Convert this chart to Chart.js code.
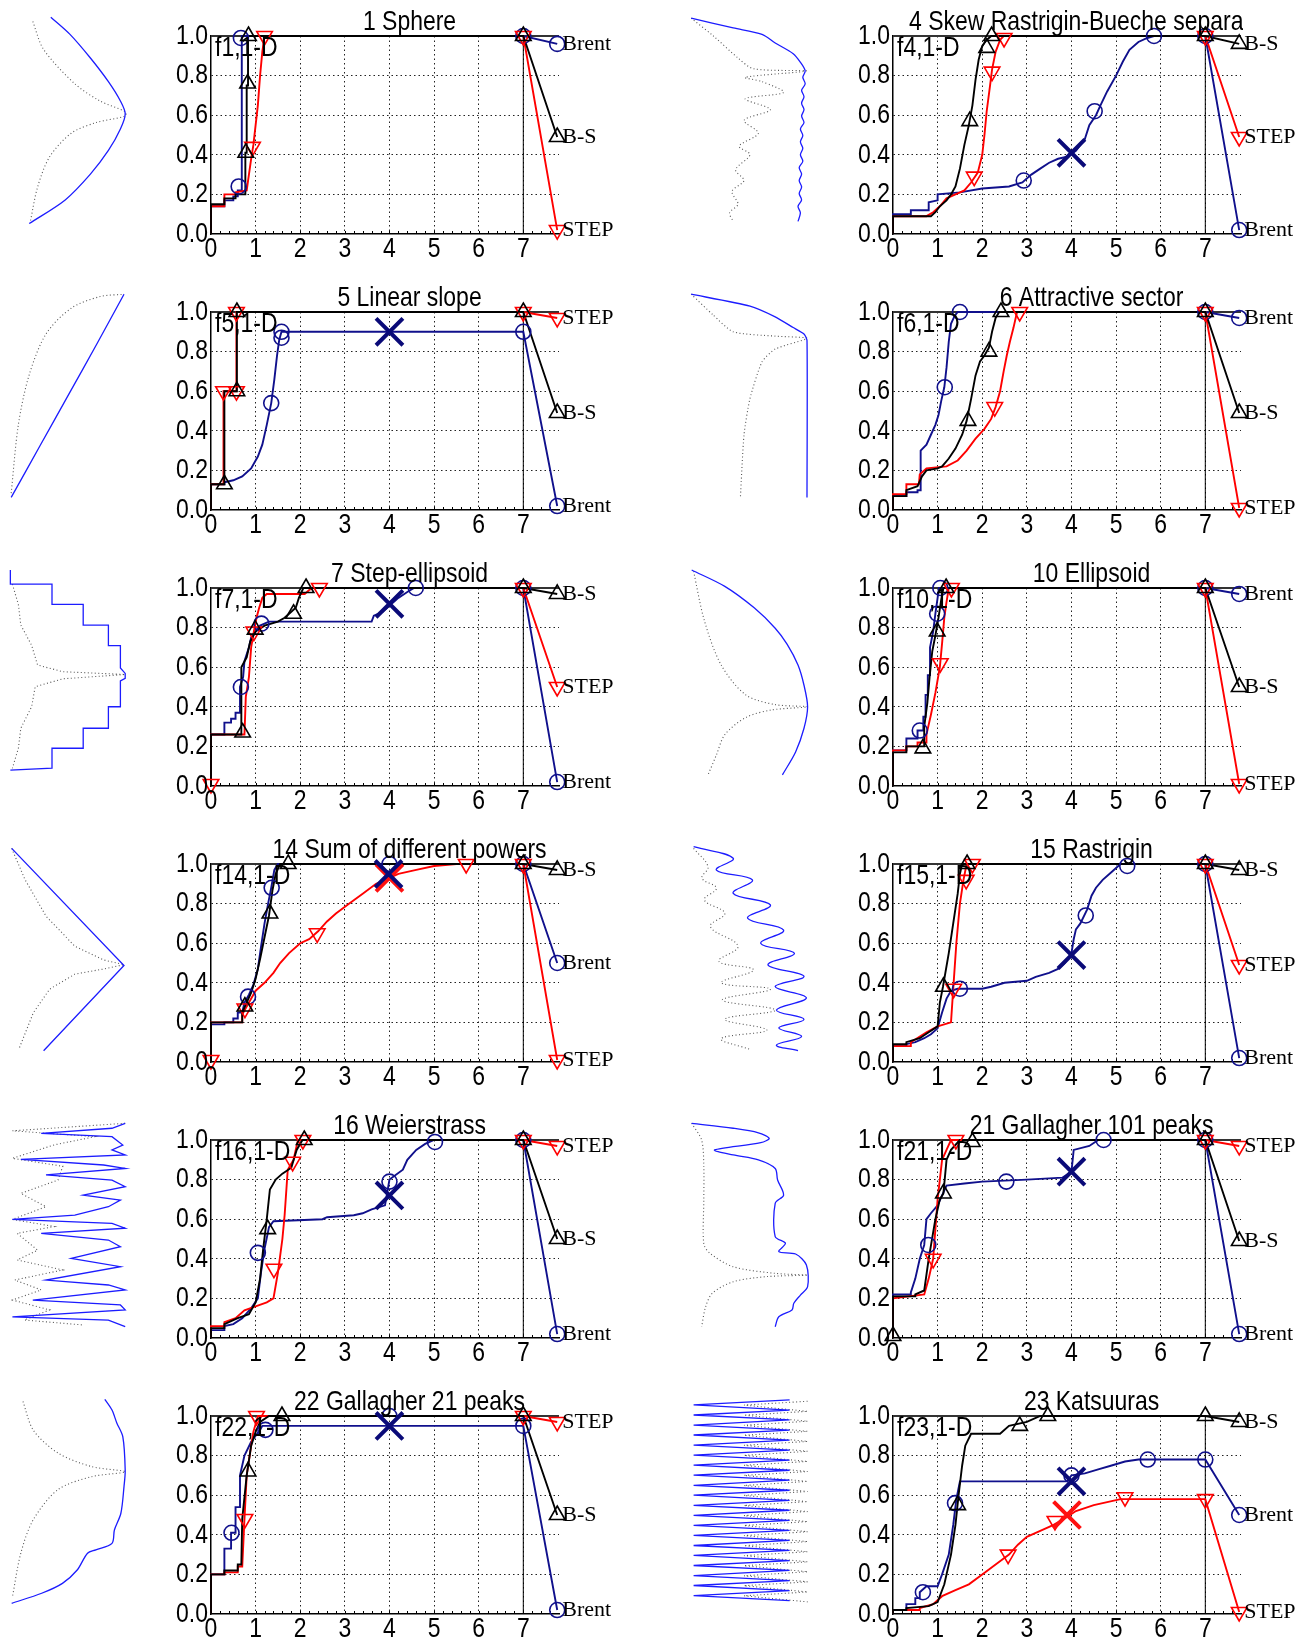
<!DOCTYPE html>
<html>
<head>
<meta charset="utf-8">
<script src="https://cdn.jsdelivr.net/npm/chart.js"></script>
<style>
  body { margin: 0; width: 1300px; height: 1638px; overflow: hidden; background: #fff; position: relative; }
  canvas { position: absolute; }
</style>
</head>
<body>
<script>
// ---- panel labels / axes ----
const panelIds = [1, 4, 5, 6, 7, 10, 14, 15, 16, 21, 22, 23];
const panelTitles = ["1 Sphere", "4 Skew Rastrigin-Bueche separable", "5 Linear slope", "6 Attractive sector",
  "7 Step-ellipsoid", "10 Ellipsoid", "14 Sum of different powers", "15 Rastrigin", "16 Weierstrass",
  "21 Gallagher 101 peaks", "22 Gallagher 21 peaks", "23 Katsuuras"];
const seriesNames = ["Brent", "B-S", "STEP"];
const xTicks = [0, 1, 2, 3, 4, 5, 6, 7];
const yTicks = [0, 0.2, 0.4, 0.6, 0.8, 1.0];
const refX = 7;
const endX = 7.76;

// ---- ECDF curves [x, y]; end values are Brent, B-S, STEP ----
const f1Brent = [[0,0],[0,0.14],[0.3,0.14],[0.3,0.17],[0.5,0.17],[0.5,0.19],[0.6,0.19],[0.6,0.22],[0.69,0.22],[0.69,1.0]];
const f1BS = [[0,0],[0,0.15],[0.3,0.15],[0.3,0.18],[0.55,0.18],[0.55,0.2],[0.77,0.2],[0.77,0.41],[0.8,0.41],[0.8,0.75],[0.83,0.75],[0.83,1.0]];
const f1Step = [[0,0],[0,0.14],[0.3,0.14],[0.3,0.2],[0.55,0.2],[0.55,0.21],[0.8,0.22],[0.85,0.3],[0.9,0.38],[0.95,0.45],[1.0,0.55],[1.05,0.65],[1.1,0.8],[1.15,0.92],[1.2,1.0]];
const f1BrentMk = [[0.62,0.24],[0.67,0.99]];
const f1BSMk = [[0.78,0.41],[0.82,0.76],[0.84,1.0]];
const f1StepMk = [[0.93,0.44],[1.2,1.0]];
const f1End = [0.96, 0.49, 0.02];
const f1Cross = [];

const f4Brent = [[0,0],[0,0.1],[0.4,0.1],[0.4,0.12],[0.8,0.12],[0.8,0.16],[1.0,0.17],[1.0,0.2],[1.5,0.21],[2.0,0.23],[2.6,0.24],[2.9,0.26],[3.1,0.3],[3.3,0.33],[3.5,0.36],[3.7,0.38],[3.9,0.39],[4.1,0.42],[4.3,0.48],[4.4,0.55],[4.55,0.6],[4.65,0.65],[4.8,0.72],[5.0,0.8],[5.15,0.87],[5.3,0.93],[5.5,0.97],[5.7,0.99],[5.85,1.0]];
const f4BS = [[0,0],[0,0.09],[0.85,0.09],[0.95,0.11],[1.05,0.14],[1.2,0.17],[1.3,0.2],[1.4,0.24],[1.5,0.33],[1.6,0.45],[1.7,0.55],[1.78,0.65],[1.85,0.78],[1.92,0.88],[2.0,0.95],[2.1,0.98],[2.2,1.0]];
const f4Step = [[0,0],[0,0.09],[0.75,0.09],[0.9,0.11],[1.05,0.14],[1.2,0.18],[1.4,0.2],[1.6,0.22],[1.75,0.26],[1.9,0.31],[2.0,0.4],[2.05,0.5],[2.1,0.62],[2.17,0.74],[2.22,0.83],[2.3,0.92],[2.4,0.98],[2.48,1.0]];
const f4BrentMk = [[2.93,0.27],[4.52,0.62],[5.85,1.0]];
const f4BSMk = [[1.72,0.57],[2.1,0.94],[2.21,1.0]];
const f4StepMk = [[1.82,0.29],[2.22,0.82],[2.49,0.99]];
const f4End = [0.02, 0.96, 0.49];
const f4Cross = [[4.0,0.41,0]];

const f5Brent = [[0,0],[0,0.13],[0.3,0.13],[0.3,0.14],[0.5,0.15],[0.7,0.17],[0.9,0.21],[1.05,0.27],[1.15,0.33],[1.25,0.43],[1.35,0.54],[1.42,0.66],[1.48,0.78],[1.53,0.86],[1.58,0.9]];
const f5BS = [[0,0],[0,0.13],[0.3,0.13],[0.3,0.6],[0.58,0.6],[0.58,1.0]];
const f5Step = [[0,0],[0,0.13],[0.28,0.13],[0.28,0.6],[0.57,0.6],[0.57,1.0]];
const f5BrentMk = [[1.35,0.54],[1.58,0.87],[1.58,0.9]];
const f5BSMk = [[0.3,0.13],[0.58,0.6],[0.58,1.0]];
const f5StepMk = [[0.28,0.6],[0.57,0.6],[0.57,1.0]];
const f5End = [0.02, 0.49, 0.97];
const f5Cross = [[4.0,0.9,0]];

const f6Brent = [[0,0],[0,0.07],[0.3,0.07],[0.3,0.09],[0.55,0.09],[0.55,0.1],[0.62,0.1],[0.62,0.3],[0.75,0.33],[0.85,0.38],[0.95,0.43],[1.02,0.48],[1.08,0.55],[1.15,0.62],[1.2,0.72],[1.25,0.85],[1.3,0.94],[1.38,0.98],[1.45,1.0]];
const f6BS = [[0,0],[0,0.07],[0.3,0.07],[0.3,0.1],[0.55,0.12],[0.65,0.17],[0.75,0.2],[1.0,0.21],[1.1,0.22],[1.25,0.26],[1.4,0.31],[1.55,0.38],[1.65,0.45],[1.75,0.56],[1.85,0.68],[1.95,0.75],[2.05,0.78],[2.15,0.82],[2.22,0.9],[2.3,0.97],[2.38,1.0]];
const f6Step = [[0,0],[0,0.08],[0.3,0.08],[0.3,0.13],[0.58,0.13],[0.6,0.18],[0.75,0.21],[1.2,0.22],[1.45,0.25],[1.65,0.3],[1.85,0.36],[2.05,0.41],[2.2,0.46],[2.3,0.52],[2.4,0.6],[2.48,0.7],[2.55,0.78],[2.62,0.85],[2.7,0.92],[2.78,1.0]];
const f6BrentMk = [[1.16,0.62],[1.5,1.0]];
const f6BSMk = [[1.68,0.45],[2.15,0.8],[2.42,1.0]];
const f6StepMk = [[2.28,0.52],[2.84,1.0]];
const f6End = [0.97, 0.49, 0.01];
const f6Cross = [];

const f7Brent = [[0,0],[0,0.26],[0.3,0.26],[0.3,0.32],[0.45,0.32],[0.45,0.34],[0.55,0.34],[0.55,0.37],[0.65,0.37],[0.65,0.5],[0.72,0.55],[0.75,0.63],[0.85,0.7],[0.9,0.75],[1.0,0.78],[1.1,0.81],[1.3,0.83],[3.6,0.83],[3.65,0.86],[3.85,0.88],[4.0,0.91],[4.2,0.95],[4.4,0.98],[4.55,1.0]];
const f7BS = [[0,0],[0,0.26],[0.68,0.26],[0.68,0.6],[0.8,0.65],[0.88,0.73],[1.0,0.78],[1.2,0.81],[1.5,0.83],[1.65,0.85],[1.75,0.87],[1.9,0.9],[1.97,0.95],[2.07,1.0]];
const f7Step = [[0,0],[0,0.26],[0.75,0.26],[0.78,0.45],[0.85,0.55],[0.9,0.7],[0.96,0.78],[1.02,0.85],[1.08,0.9],[1.15,0.95],[1.25,0.97],[2.1,0.97],[2.2,0.99],[2.3,1.0]];
const f7BrentMk = [[0.67,0.5],[1.13,0.82],[4.59,1.0]];
const f7BSMk = [[0.71,0.27],[0.99,0.79],[1.85,0.87],[2.13,1.0]];
const f7StepMk = [[0,0.01],[0.96,0.78],[2.43,1.0]];
const f7End = [0.02, 0.97, 0.5];
const f7Cross = [[4.0,0.92,0]];

const f10Brent = [[0,0],[0,0.18],[0.3,0.18],[0.3,0.24],[0.55,0.24],[0.55,0.28],[0.68,0.28],[0.68,0.35],[0.73,0.35],[0.73,0.46],[0.78,0.46],[0.78,0.56],[0.83,0.56],[0.83,0.7],[0.9,0.78],[0.95,0.87],[1.0,0.95],[1.03,1.0]];
const f10BS = [[0,0],[0,0.17],[0.3,0.17],[0.3,0.2],[0.7,0.2],[0.7,0.3],[0.77,0.42],[0.82,0.55],[0.88,0.68],[0.95,0.76],[1.02,0.85],[1.08,0.94],[1.13,1.0]];
const f10Step = [[0,0],[0,0.18],[0.3,0.18],[0.3,0.2],[0.55,0.2],[0.55,0.22],[0.75,0.22],[0.75,0.26],[0.85,0.36],[0.95,0.47],[1.05,0.6],[1.1,0.72],[1.15,0.85],[1.2,0.93],[1.25,1.0]];
const f10BrentMk = [[0.6,0.28],[0.99,0.87],[1.06,1.0]];
const f10BSMk = [[0.67,0.19],[0.99,0.78],[1.19,1.0]];
const f10StepMk = [[1.06,0.62],[1.31,1.0]];
const f10End = [0.97, 0.5, 0.01];
const f10Cross = [];

const f14Brent = [[0,0],[0,0.19],[0.3,0.19],[0.3,0.2],[0.5,0.2],[0.5,0.22],[0.6,0.22],[0.6,0.25],[0.7,0.25],[0.75,0.3],[0.85,0.34],[0.95,0.39],[1.05,0.47],[1.12,0.58],[1.2,0.7],[1.28,0.8],[1.35,0.88],[1.42,0.97],[1.5,1.0]];
const f14BS = [[0,0],[0,0.2],[0.7,0.2],[0.7,0.25],[0.8,0.3],[0.9,0.35],[1.0,0.42],[1.1,0.52],[1.2,0.63],[1.3,0.74],[1.38,0.87],[1.45,0.95],[1.55,1.0]];
const f14Step = [[0,0],[0,0.2],[0.7,0.2],[0.7,0.24],[0.85,0.3],[1.0,0.36],[1.2,0.4],[1.4,0.45],[1.55,0.5],[1.75,0.55],[2.0,0.6],[2.2,0.62],[2.4,0.66],[2.6,0.71],[2.8,0.75],[3.1,0.8],[3.4,0.85],[3.7,0.9],[4.0,0.93],[4.2,0.95],[4.6,0.97],[5.0,0.99],[5.5,1.0]];
const f14BrentMk = [[0.83,0.33],[1.36,0.88],[4.0,1.0]];
const f14BSMk = [[0.76,0.28],[1.32,0.75],[1.73,1.0]];
const f14StepMk = [[0,0.01],[0.76,0.27],[2.38,0.65],[5.72,1.0]];
const f14End = [0.5, 0.97, 0.01];
const f14Cross = [[3.98,0.95,0],[4.0,0.93,2]];

const f15Brent = [[0,0],[0,0.08],[0.3,0.08],[0.3,0.09],[0.5,0.1],[0.7,0.12],[0.85,0.14],[1.0,0.17],[1.1,0.25],[1.2,0.32],[1.3,0.36],[1.45,0.37],[2.0,0.37],[2.2,0.38],[2.5,0.4],[3.0,0.41],[3.2,0.43],[3.5,0.45],[3.7,0.47],[3.85,0.5],[4.0,0.55],[4.05,0.62],[4.1,0.67],[4.2,0.7],[4.35,0.77],[4.45,0.84],[4.55,0.88],[4.7,0.92],[4.9,0.96],[5.1,1.0]];
const f15BS = [[0,0],[0,0.09],[0.3,0.09],[0.3,0.1],[0.6,0.12],[0.8,0.15],[1.0,0.18],[1.05,0.3],[1.12,0.38],[1.25,0.55],[1.35,0.7],[1.45,0.85],[1.5,0.95],[1.55,1.0]];
const f15Step = [[0,0],[0,0.08],[0.4,0.08],[0.4,0.1],[0.75,0.15],[1.0,0.18],[1.3,0.2],[1.35,0.37],[1.42,0.6],[1.5,0.8],[1.58,0.92],[1.65,1.0]];
const f15BrentMk = [[1.5,0.37],[4.32,0.74],[5.25,0.99]];
const f15BSMk = [[1.13,0.38],[1.66,1.0]];
const f15StepMk = [[1.36,0.37],[1.64,0.92],[1.78,1.0]];
const f15End = [0.02, 0.97, 0.49];
const f15Cross = [[4.0,0.54,0]];

const f16Brent = [[0,0],[0,0.04],[0.3,0.04],[0.3,0.06],[0.5,0.07],[0.7,0.1],[0.9,0.15],[1.05,0.2],[1.12,0.33],[1.2,0.45],[1.3,0.56],[1.4,0.59],[2.5,0.6],[2.6,0.61],[3.2,0.62],[3.4,0.63],[3.6,0.65],[3.9,0.67],[4.0,0.8],[4.3,0.85],[4.4,0.9],[4.6,0.95],[4.8,0.98],[5.0,1.0]];
const f16BS = [[0,0],[0,0.05],[0.3,0.05],[0.3,0.07],[0.6,0.1],[0.85,0.12],[1.0,0.18],[1.1,0.3],[1.17,0.45],[1.25,0.6],[1.32,0.75],[1.45,0.8],[1.6,0.83],[1.8,0.86],[1.92,0.95],[2.05,1.0]];
const f16Step = [[0,0],[0,0.06],[0.3,0.06],[0.3,0.08],[0.55,0.1],[0.75,0.14],[1.0,0.16],[1.25,0.18],[1.4,0.2],[1.5,0.33],[1.6,0.5],[1.65,0.62],[1.72,0.85],[1.85,0.9],[1.95,1.0]];
const f16BrentMk = [[1.05,0.43],[4.0,0.79],[5.02,0.99]];
const f16BSMk = [[1.27,0.55],[2.09,1.0]];
const f16StepMk = [[1.41,0.35],[1.83,0.89],[2.06,1.0]];
const f16End = [0.02, 0.5, 0.97];
const f16Cross = [[4.0,0.72,0]];

const f21Brent = [[0,0],[0,0.22],[0.4,0.22],[0.4,0.23],[0.5,0.3],[0.6,0.4],[0.7,0.47],[0.75,0.6],[0.85,0.63],[1.0,0.67],[1.1,0.72],[1.2,0.77],[1.6,0.78],[2.0,0.79],[3.0,0.8],[3.8,0.81],[4.0,0.84],[4.05,0.95],[4.4,0.97],[4.6,1.0]];
const f21BS = [[0,0],[0,0.21],[0.5,0.21],[0.5,0.22],[0.7,0.24],[0.8,0.4],[0.95,0.6],[1.05,0.7],[1.13,0.73],[1.2,0.9],[1.3,0.95],[1.5,1.0]];
const f21Step = [[0,0],[0,0.2],[0.7,0.22],[0.8,0.3],[0.9,0.4],[0.95,0.55],[1.0,0.7],[1.1,0.9],[1.2,0.95],[1.3,1.0]];
const f21BrentMk = [[0.79,0.47],[2.54,0.79],[4.72,1.0]];
const f21BSMk = [[0,0.01],[1.13,0.73],[1.78,0.99]];
const f21StepMk = [[0.9,0.4],[1.41,1.0]];
const f21End = [0.02, 0.49, 0.97];
const f21Cross = [[4.0,0.84,0]];

const f22Brent = [[0,0],[0,0.2],[0.3,0.2],[0.3,0.33],[0.45,0.33],[0.45,0.41],[0.55,0.41],[0.55,0.54],[0.65,0.54],[0.65,0.7],[0.75,0.8],[0.9,0.87],[1.1,0.93],[1.15,0.95]];
const f22BS = [[0,0],[0,0.2],[0.3,0.2],[0.3,0.22],[0.6,0.22],[0.6,0.25],[0.68,0.25],[0.7,0.48],[0.8,0.7],[0.9,0.85],[1.0,0.92],[1.1,0.97],[1.3,1.0]];
const f22Step = [[0,0],[0,0.2],[0.3,0.2],[0.3,0.21],[0.6,0.21],[0.6,0.24],[0.7,0.24],[0.75,0.48],[0.8,0.7],[0.9,0.85],[0.95,0.92],[1.0,0.96],[1.05,1.0]];
const f22BrentMk = [[0.46,0.41],[1.22,0.93],[4.0,1.0]];
const f22BSMk = [[0.83,0.72],[1.59,1.0]];
const f22StepMk = [[0.76,0.48],[1.02,1.0]];
const f22End = [0.02, 0.5, 0.97];
const f22Cross = [[4.0,0.95,0]];

const f23Brent = [[0,0],[0,0.02],[0.3,0.02],[0.3,0.05],[0.5,0.05],[0.5,0.08],[0.6,0.08],[0.6,0.11],[0.75,0.14],[1.0,0.14],[1.1,0.2],[1.25,0.3],[1.35,0.45],[1.42,0.58],[1.5,0.67],[3.9,0.67],[4.0,0.7],[4.3,0.71],[4.6,0.73],[4.9,0.75],[5.2,0.77],[5.5,0.78]];
const f23BS = [[0,0],[0,0.02],[0.3,0.02],[0.3,0.03],[0.8,0.04],[1.0,0.06],[1.15,0.15],[1.3,0.3],[1.4,0.45],[1.47,0.6],[1.55,0.75],[1.62,0.85],[1.75,0.91],[2.4,0.91],[2.6,0.95],[3.0,0.97],[3.3,1.0]];
const f23Step = [[0,0],[0,0.02],[0.6,0.02],[0.6,0.03],[0.9,0.05],[1.1,0.09],[1.4,0.12],[1.7,0.15],[2.0,0.2],[2.3,0.25],[2.6,0.3],[2.8,0.35],[3.0,0.39],[3.3,0.42],[3.6,0.45],[3.9,0.49],[4.1,0.52],[4.5,0.55],[4.9,0.57],[5.1,0.58]];
const f23BrentMk = [[0.67,0.11],[1.39,0.56],[4.0,0.7],[5.71,0.78]];
const f23BSMk = [[1.45,0.55],[2.84,0.95],[3.47,1.0]];
const f23StepMk = [[2.58,0.3],[3.63,0.47],[5.2,0.59]];
const f23End = [0.5, 0.97, 0.01];
const f23Cross = [[4.0,0.67,0],[3.9,0.5,2]];

// ---- function thumbnails, x 0..100 across, y 0..100 top to bottom ----
const thumb1Blue = [[34,1],[50,9],[67,20],[82,31],[92,40],[96,46],[92,53],[82,63],[67,74],[46,86],[16,97]];
const thumb1Dots = [[19,3],[28,16],[54,32],[75,40],[96,45],[96,47],[72,50],[51,55],[33,66],[23,80],[17,96]];
const thumb4Blue = [[1,1.5],[36,6],[60,9],[71,13],[86,18],[92,22],[96,26],[94,29],[96,32],[93,35],[95,38],[93,41],[95,44],[93,47],[95,50],[92,53],[94,56],[92,59],[94,62],[92,65],[94,68],[91,71],[93,74],[91,77],[93,80],[91,83],[93,86],[90,89],[92,92],[90,96]];
const thumb4Dots = [[1,1.5],[20,10],[40,20],[53,25],[97,26],[46,29],[60,31],[78,36],[46,39],[67,44],[45,49],[57,55],[41,61],[50,65],[38,72],[45,77],[35,82],[40,88],[33,92],[36,96]];
const thumb5Blue = [[1,96],[25,72],[48,49],[72,25],[95,1.5]];
const thumb5Dots = [[1,94],[7,62],[16,39],[30,20],[51,8],[75,2.6],[95,1.5]];
const thumb6Blue = [[1,1.5],[50,7],[71,12],[86,17],[95,20],[97.5,23],[97.5,96]];
const thumb6Dots = [[1,1.5],[19,11],[36,19],[71,21],[97.5,22],[71,27],[60,33],[50,50],[45,67],[42,96]];
const thumb7Blue = [[0.3,1.4],[0.3,8],[35,8],[35,17.4],[61,17.4],[61,27],[82,27],[82,36.6],[92,36.6],[92,47],[96,49.5],[96,51.8],[92,53],[92,65],[82,65],[82,75],[61,75],[61,84.3],[35,84.3],[35,93.6],[0.3,94.5]];
const thumb7Dots = [[2,8],[7,17.5],[9,27],[18,36.4],[23,45.6],[44,48.7],[96,50],[44,52],[21,55.7],[18,65],[9,75],[7,84.3],[2,93.6]];
const thumb10Blue = [[1.4,1.4],[29,9],[53.5,19],[71,28.5],[81,36],[90,45.6],[95,55],[98,65],[95,75],[88,86],[77,96.7]];
const thumb10Dots = [[3,2],[12,25],[26,45.6],[46.5,59.5],[71,64],[98,65],[68,66.5],[46.5,70],[29,78],[22,87.4],[15,96.7]];
const thumb14Blue = [[1.4,2.5],[95,57],[28,96.6]];
const thumb14Dots = [[1.4,2.5],[12.5,17],[30,34],[54,48],[78,54.4],[95,56.6],[78,58.6],[54,61],[33,68],[19.4,79],[7.3,96]];
const thumb15Blue = [[3,1.7],[36,7.1],[22,12.6],[52,17.2],[36,23.4],[67,28.8],[48,35],[78,40.5],[59,46.7],[87,51.3],[65,56.7],[95,62],[71,66.8],[97,72],[72,77.7],[95,82],[74,86],[93,90],[72,94],[90,96.6]];
const thumb15Dots = [[3,2.5],[15,11],[10,16.4],[22,21],[12,26.5],[29,32.7],[17,38.9],[40,48],[24,55],[53,59],[26,65],[67,68],[27,73],[71,77.7],[29,82],[64,87],[26,91],[50,96]];
const thumb16Blue = [[96,2],[85,4.3],[26,6.7],[85,8.2],[94,12.1],[85,14.4],[96,16.7],[9,18.8],[78,21.4],[96,23],[30,26],[85,28.4],[96,31.5],[61,35.4],[92,37.7],[82,40.8],[54,44.7],[2,46.7],[85,48.5],[96,50.8],[26,53.2],[82,56.3],[92,59.4],[51,64.8],[92,68.7],[30,74.9],[82,77.2],[96,79.5],[19,84.2],[92,86.5],[96,88.8],[2,92],[82,93.5],[96,96.6]];
const thumb16Dots = [[96,2],[2,5.5],[71,8.2],[37,12],[2,18.3],[44,22],[40,28.4],[9,34.6],[30,40.8],[2,46.7],[37,50],[6,53.2],[23,61],[6,65.6],[44,70.2],[4,74.9],[26,79.5],[2,84.2],[33,88.8],[12,93.5],[61,95.8]];
const thumb21Blue = [[1.4,2],[36,4.3],[57,6.4],[66,9],[59,11],[20.5,14.4],[36,16.7],[57,19],[71,23],[73,28.4],[78,35.4],[71,39.2],[71,54.7],[79.5,57.8],[74,61.7],[88,62.8],[97,67.9],[98,78],[92,81.9],[86.5,85.7],[85,88.8],[74,92],[71,96.6]];
const thumb21Dots = [[1.4,2],[9.7,9.8],[11.5,22],[11.5,38],[11.5,58],[16.7,62.5],[36,68.7],[71,71.8],[98,72.6],[64,73.3],[36,75.7],[18.7,81],[13,87.4],[9.7,96.6]];
const thumb22Blue = [[79,2],[85,7],[89,13],[94,19.4],[96,35],[95,42.6],[92.4,55],[87,62.8],[85,69],[71.5,72],[64.6,73.6],[56,81.4],[43.7,87.6],[26.4,92.2],[1.4,96.9]];
const thumb22Dots = [[10.8,3],[19.4,16.3],[40,27],[68,33.3],[96,35.7],[68,38],[40,44],[19.4,58],[9,73.6],[2,94]];
const thumb23Blue = [[83,2.3],[3,4.6],[83,7.0],[3,9.3],[83,11.6],[3,14.0],[83,16.3],[3,18.6],[83,21.0],[3,23.3],[83,25.6],[3,28.0],[83,30.3],[3,32.6],[83,35.0],[3,37.3],[83,39.6],[3,42.0],[83,44.3],[3,46.6],[83,49.0],[3,51.3],[83,53.6],[3,56.0],[83,58.3],[3,60.6],[83,63.0],[3,65.3],[83,67.6],[3,70.0],[83,72.3],[3,74.6],[83,77.0],[3,79.3],[83,81.6],[3,84.0],[83,86.3],[3,88.6],[83,91.0],[3,93.3],[83,95.6]];
const thumb23Dots = [[98,2.9],[45,4.7],[98,7.6],[45,9.4],[98,12.2],[45,14.1],[98,16.9],[45,18.7],[98,21.6],[45,23.4],[98,26.2],[45,28.1],[98,30.9],[45,32.7],[98,35.6],[45,37.4],[98,40.2],[45,42.1],[98,44.9],[45,46.7],[98,49.6],[45,51.4],[98,54.2],[45,56.1],[98,58.9],[45,60.7],[98,63.6],[45,65.4],[98,68.2],[45,70.1],[98,72.9],[45,74.7],[98,77.6],[45,79.4],[98,82.2],[45,84.1],[98,86.9],[45,88.7],[98,91.6],[45,93.4],[98,96.2]];

// ---- assemble ----
const panels = [
  { curves: [f1Brent, f1BS, f1Step], marks: [f1BrentMk, f1BSMk, f1StepMk], end: f1End, cross: f1Cross, blue: thumb1Blue, dots: thumb1Dots, tension: 0.3 },
  { curves: [f4Brent, f4BS, f4Step], marks: [f4BrentMk, f4BSMk, f4StepMk], end: f4End, cross: f4Cross, blue: thumb4Blue, dots: thumb4Dots, tension: 0.3 },
  { curves: [f5Brent, f5BS, f5Step], marks: [f5BrentMk, f5BSMk, f5StepMk], end: f5End, cross: f5Cross, blue: thumb5Blue, dots: thumb5Dots, tension: 0.3 },
  { curves: [f6Brent, f6BS, f6Step], marks: [f6BrentMk, f6BSMk, f6StepMk], end: f6End, cross: f6Cross, blue: thumb6Blue, dots: thumb6Dots, tension: 0.2 },
  { curves: [f7Brent, f7BS, f7Step], marks: [f7BrentMk, f7BSMk, f7StepMk], end: f7End, cross: f7Cross, blue: thumb7Blue, dots: thumb7Dots, tension: 0 },
  { curves: [f10Brent, f10BS, f10Step], marks: [f10BrentMk, f10BSMk, f10StepMk], end: f10End, cross: f10Cross, blue: thumb10Blue, dots: thumb10Dots, tension: 0.3 },
  { curves: [f14Brent, f14BS, f14Step], marks: [f14BrentMk, f14BSMk, f14StepMk], end: f14End, cross: f14Cross, blue: thumb14Blue, dots: thumb14Dots, tension: 0 },
  { curves: [f15Brent, f15BS, f15Step], marks: [f15BrentMk, f15BSMk, f15StepMk], end: f15End, cross: f15Cross, blue: thumb15Blue, dots: thumb15Dots, tension: 0.4 },
  { curves: [f16Brent, f16BS, f16Step], marks: [f16BrentMk, f16BSMk, f16StepMk], end: f16End, cross: f16Cross, blue: thumb16Blue, dots: thumb16Dots, tension: 0 },
  { curves: [f21Brent, f21BS, f21Step], marks: [f21BrentMk, f21BSMk, f21StepMk], end: f21End, cross: f21Cross, blue: thumb21Blue, dots: thumb21Dots, tension: 0.3 },
  { curves: [f22Brent, f22BS, f22Step], marks: [f22BrentMk, f22BSMk, f22StepMk], end: f22End, cross: f22Cross, blue: thumb22Blue, dots: thumb22Dots, tension: 0.3 },
  { curves: [f23Brent, f23BS, f23Step], marks: [f23BrentMk, f23BSMk, f23StepMk], end: f23End, cross: f23Cross, blue: thumb23Blue, dots: thumb23Dots, tension: 0 },
];

const lineColors = ["#10108c", "#000000", "#ff0000"];
const crossColors = ["#0a0a78", "#000000", "#ff1010"];
const shapes = ["circle", "triangle", "triangle"];
const rotations = [0, 0, 180];
const sizes = [7.5, 9, 9];
const lineOrder = [1, 2, 0]; // B-S drawn on top, then STEP, then Brent
const rowPitch = 276;
const sansFont = '"Liberation Sans", Arial, sans-serif';
const serifFont = '"Liberation Serif", "Times New Roman", serif';
const textSize = 28;
const squeeze = 0.82; // the original lettering is tall and narrow

Chart.defaults.font.family = sansFont;
Chart.defaults.color = "#000";

function makeCanvas(left, top, w, h) {
  const c = document.createElement("canvas");
  c.width = w;
  c.height = h;
  c.style.left = left + "px";
  c.style.top = top + "px";
  document.body.appendChild(c);
  return c;
}

const toPts = (arr) => arr.map(([x, y]) => ({ x, y }));

function narrowText(ctx, text, x, y, align) {
  ctx.save();
  ctx.translate(x, y);
  ctx.scale(squeeze, 1);
  ctx.textAlign = align;
  ctx.fillText(text, 0, 0);
  ctx.restore();
}

// titles, tags, tick labels, series labels and top spine
const panelText = {
  id: "panelText",
  beforeDatasetsDraw(chart) {
    const { ctx, chartArea: a, scales: { x, y } } = chart;
    const top = y.getPixelForValue(1);
    ctx.save();
    ctx.strokeStyle = "#333";
    ctx.lineWidth = 2;
    ctx.beginPath();
    ctx.moveTo(a.left, top);
    ctx.lineTo(a.right, top);
    ctx.stroke();
    // small minor ticks along the bottom axis
    ctx.lineWidth = 1;
    ctx.strokeStyle = "#000";
    for (let v = 0.2; v < 7.8; v += 0.2) {
      const px = Math.round(x.getPixelForValue(v)) + 0.5;
      ctx.beginPath();
      ctx.moveTo(px, a.bottom);
      ctx.lineTo(px, a.bottom - 3);
      ctx.stroke();
    }
    ctx.restore();
  },
  afterDatasetsDraw(chart, args, opts) {
    const { ctx, chartArea: a, scales: { x, y } } = chart;
    ctx.save();
    ctx.fillStyle = "#000";
    ctx.textBaseline = "middle";
    ctx.font = textSize + "px " + sansFont;
    x.ticks.forEach((t) => narrowText(ctx, String(t.value), x.getPixelForValue(t.value), a.bottom + 15, "center"));
    y.ticks.forEach((t) => narrowText(ctx, t.value.toFixed(1), a.left - 3, y.getPixelForValue(t.value), "right"));
    narrowText(ctx, opts.tag, a.left + 4, a.top + 12, "left");
    ctx.font = "22px " + serifFont;
    ctx.textAlign = "left";
    opts.end.forEach((v, s) => {
      ctx.fillText(seriesNames[s], x.getPixelForValue(endX) + 5, y.getPixelForValue(v));
    });
    ctx.beginPath();
    ctx.rect(0, 0, opts.clipRight, chart.height);
    ctx.clip();
    ctx.font = textSize + "px " + sansFont;
    narrowText(ctx, opts.title, x.getPixelForValue(4.45), a.top - 14, "center");
    ctx.restore();
  },
};

function ecdfChart(p, i) {
  const col = i % 2;
  const row = Math.floor(i / 2);
  const left = col ? 833 : 151;
  const c = makeCanvas(left, row * rowPitch, 478, 276);

  const markSets = [];
  const lineSets = [];
  lineOrder.forEach((s) => {
    const curve = p.curves[s];
    const last = curve[curve.length - 1][1];
    const tail = [[refX, last], [endX, p.end[s]]];
    markSets.push({
      data: toPts(p.marks[s].concat(tail)),
      pointStyle: shapes[s],
      rotation: rotations[s],
      pointRadius: sizes[s],
      pointBorderWidth: 1.6,
      borderColor: lineColors[s],
      backgroundColor: "rgba(0,0,0,0)",
      clip: false,
    });
    lineSets.push({
      data: toPts(curve.concat(tail)),
      showLine: true,
      borderColor: lineColors[s],
      borderWidth: 1.9,
      pointRadius: 0,
      clip: false,
    });
  });
  const crossSets = p.cross.map(([cx, cy, s]) => ({
    data: [{ x: cx, y: cy }],
    pointStyle: "crossRot",
    pointRadius: 19,
    pointBorderWidth: 4,
    borderColor: crossColors[s],
    clip: false,
  }));
  const refSet = {
    data: [{ x: refX, y: 0 }, { x: refX, y: 1 }],
    showLine: true,
    borderColor: "#000",
    borderWidth: 1,
    pointRadius: 0,
    clip: false,
  };

  new Chart(c, {
    type: "scatter",
    data: { datasets: crossSets.concat(markSets, lineSets, [refSet]) },
    options: {
      responsive: false,
      animation: false,
      events: [],
      layout: { padding: { top: 36, bottom: 6, left: 0, right: 70 } },
      plugins: {
        legend: { display: false },
        tooltip: { enabled: false },
        panelText: {
          tag: "f" + panelIds[i] + ",1-D",
          title: panelTitles[i],
          end: p.end,
          clipRight: col ? 1243 - left : 1000,
        },
      },
      scales: {
        x: {
          type: "linear",
          min: 0,
          max: 7.8,
          afterBuildTicks: (s) => { s.ticks = xTicks.map((v) => ({ value: v })); },
          afterFit: (s) => { s.height = 36; },
          grid: {
            drawTicks: false,
            color: (ctx) => (ctx.tick && ctx.tick.value === 0 ? "rgba(0,0,0,0)" : "#222"),
            lineWidth: 1,
          },
          border: { display: true, color: "#000", width: 1.5, dash: [1.5, 3] },
          ticks: { display: false },
        },
        y: {
          type: "linear",
          min: 0,
          max: 1,
          afterBuildTicks: (s) => { s.ticks = yTicks.map((v) => ({ value: v })); },
          afterFit: (s) => { s.width = 60; },
          grid: {
            drawTicks: false,
            color: (ctx) => (ctx.tick && (ctx.tick.value === 0 || ctx.tick.value === 1) ? "rgba(0,0,0,0)" : "#222"),
            lineWidth: 1,
          },
          border: { display: true, color: "#000", width: 1.5, dash: [1.5, 3] },
          ticks: { display: false },
        },
      },
    },
    plugins: [panelText],
  });
}

function thumbChart(p, i) {
  const col = i % 2;
  const row = Math.floor(i / 2);
  const c = makeCanvas(col ? 686 : 6, row * rowPitch + 11, 128, 223);
  new Chart(c, {
    type: "scatter",
    data: {
      datasets: [
        { data: toPts(p.blue), showLine: true, borderColor: "#1c1cff", borderWidth: 1.3, pointRadius: 0, tension: p.tension, clip: false },
        { data: toPts(p.dots), showLine: true, borderColor: "#555", borderWidth: 1.1, borderDash: [1, 2.5], pointRadius: 0, tension: p.tension, clip: false },
      ],
    },
    options: {
      responsive: false,
      animation: false,
      events: [],
      layout: { padding: 4 },
      plugins: { legend: { display: false }, tooltip: { enabled: false } },
      scales: {
        x: { display: false, min: 0, max: 100 },
        y: { display: false, min: 0, max: 100, reverse: true },
      },
    },
  });
}

panels.forEach((p, i) => {
  thumbChart(p, i);
  ecdfChart(p, i);
});
</script>
</body>
</html>
